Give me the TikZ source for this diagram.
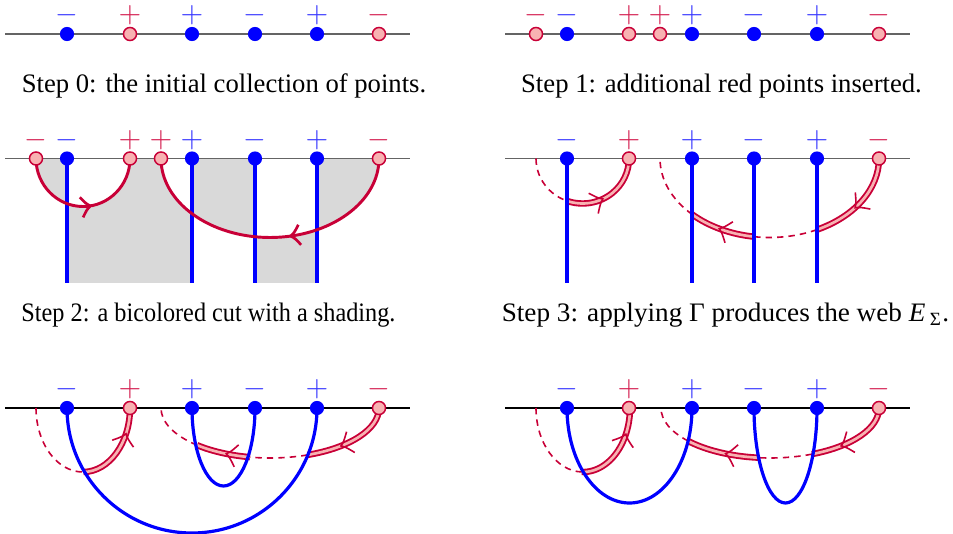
\documentclass[tikz,border=0pt]{standalone}
\usepackage{fontspec}
\setmainfont{Liberation Serif}
\usetikzlibrary{decorations.markings,backgrounds}
\definecolor{crim}{RGB}{200,0,55}
\definecolor{pinkf}{RGB}{248,178,178}
\definecolor{lblred}{RGB}{212,30,80}
\definecolor{lblblue}{RGB}{55,55,255}
\definecolor{axisgray}{RGB}{100,100,100}
\definecolor{shadegray}{RGB}{217,217,217}
\tikzset{
 bdot/.style={circle, fill=blue, inner sep=0pt, minimum size=5.3pt},
 rdot/.style={circle, fill=pinkf, draw=crim, line width=0.55pt, inner sep=0pt, minimum size=4.9pt},
 lblb/.style={text=lblblue, font=\fontsize{11}{13}\selectfont, inner sep=0pt},
 lblr/.style={text=lblred, font=\fontsize{11}{13}\selectfont, inner sep=0pt},
 axisline/.style={draw=axisgray, line width=0.55pt},
 axisblack/.style={draw=black, line width=0.45pt},
 bluew/.style={draw=blue, line width=1.2pt},
 redarc/.style={draw=crim, line width=1.1pt},
 dsh/.style={draw=crim, line width=0.6pt, dash pattern=on 2.4pt off 1.9pt},
 dblout/.style={draw=crim, line width=2.4pt},
 dblin/.style={draw=pinkf, line width=1.0pt},
 captext/.style={font=\fontsize{10}{12}\selectfont, inner sep=0pt},
}
\newcommand\bpt[4]{\node[bdot] (#1) at (#2,#3) {}; \node[lblb] (#1s) at (#2,#3+18.5) {$#4$};}
\newcommand\rpt[4]{\node[rdot] (#1) at (#2,#3) {}; \node[lblr] (#1s) at (#2,#3+18.5) {$#4$};}
\newcommand\chevthin{\draw[crim, line width=0.6pt] (-3.9pt,4.2pt) .. controls (-1.6pt,1.2pt) .. (0pt,0pt) .. controls (-1.6pt,-1.2pt) .. (-3.9pt,-4.2pt);}
\newcommand\chevthick{\draw[crim, line width=1.0pt] (-3.4pt,3.8pt) .. controls (-1.5pt,1.1pt) .. (0pt,0pt) .. controls (-1.5pt,-1.1pt) .. (-3.4pt,-3.8pt);}
\newcommand\dasharc[4]{\draw[dsh] (#1) arc[start angle=#2,end angle=#3,#4];}
\newcommand\dblarc[5]{%
  \draw[dblout] (#1) arc[start angle=#2,end angle=#3,#4];
  \draw[dblin] (#1) arc[start angle=#2,end angle=#3,#4];
  \path[decorate,decoration={markings,mark=at position #5 with {\chevthin}}] (#1) arc[start angle=#2,end angle=#3,#4];}
\begin{document}
\begin{tikzpicture}[x=0.375pt,y=0.375pt]
\useasboundingbox (0,0) rectangle (953,-534);
% ---------- Step 0
\bpt{p0a}{67}{-34}{-} \rpt{p0b}{130}{-34}{+} \bpt{p0c}{192}{-34}{+}
\bpt{p0d}{255}{-34}{-} \bpt{p0e}{317}{-34}{+} \rpt{p0f}{379}{-34}{-}
\coordinate (a0L) at (5,-34); \coordinate (a0R) at (410,-34);
\node[captext, anchor=base] (c0) at (224,-93) {Step 0: the initial collection of points.};
% ---------- Step 1
\rpt{p1a}{536}{-34}{-} \bpt{p1b}{567}{-34}{-} \rpt{p1c}{629}{-34}{+} \rpt{p1d}{660}{-34}{+}
\bpt{p1e}{692}{-34}{+} \bpt{p1f}{754}{-34}{-} \bpt{p1g}{817}{-34}{+} \rpt{p1h}{879}{-34}{-}
\coordinate (a1L) at (505,-34); \coordinate (a1R) at (910,-34);
\node[captext, anchor=base] (c1) at (721.5,-93) {Step 1: additional red points inserted.};
% ---------- Step 2
\rpt{p2a}{36}{-158.5}{-} \bpt{p2b}{67}{-158.5}{-} \rpt{p2c}{130}{-158.5}{+} \rpt{p2d}{161}{-158.5}{+}
\bpt{p2e}{192}{-158.5}{+} \bpt{p2f}{255}{-158.5}{-} \bpt{p2g}{317}{-158.5}{+} \rpt{p2h}{379}{-158.5}{-}
\coordinate (a2L) at (5,-158.5); \coordinate (a2R) at (410,-158.5);
\coordinate (p2bB) at (67,-283); \coordinate (p2eB) at (192,-283);
\coordinate (p2fB) at (255,-283); \coordinate (p2gB) at (317,-283);
\node[captext, anchor=base] (c2) at (208.5,-322) {\scalebox{0.91}[1]{Step 2: a bicolored cut with a shading.}};
% ---------- Step 3
\bpt{p3a}{567}{-158.5}{-} \rpt{p3b}{629}{-158.5}{+} \bpt{p3c}{692}{-158.5}{+}
\bpt{p3d}{754}{-158.5}{-} \bpt{p3e}{817}{-158.5}{+} \rpt{p3f}{879}{-158.5}{-}
\coordinate (a3L) at (505,-158.5); \coordinate (a3R) at (910,-158.5);
\coordinate (s3a) at (536,-158.5);
\coordinate (p3aB) at (567,-283); \coordinate (p3cB) at (692,-283);
\coordinate (p3dB) at (754,-283); \coordinate (p3eB) at (817,-283);
\node[captext, anchor=base] (c3) at (725.5,-322) {\scalebox{1.02}[1]{Step 3: applying Γ produces the web \textit{E}\,\textsubscript{Σ}.}};
% ---------- Step 4
\bpt{p4a}{67}{-408}{-} \rpt{p4b}{130}{-408}{+} \bpt{p4c}{192}{-408}{+}
\bpt{p4d}{255}{-408}{-} \bpt{p4e}{317}{-408}{+} \rpt{p4f}{379}{-408}{-}
\coordinate (a4L) at (5,-408); \coordinate (a4R) at (410,-408);
\coordinate (s4a) at (36,-408);
% ---------- Step 5
\bpt{p5a}{567}{-408}{-} \rpt{p5b}{629}{-408}{+} \bpt{p5c}{692}{-408}{+}
\bpt{p5d}{754}{-408}{-} \bpt{p5e}{817}{-408}{+} \rpt{p5f}{879}{-408}{-}
\coordinate (a5L) at (505,-408); \coordinate (a5R) at (910,-408);
\coordinate (s5a) at (536,-408);

\begin{pgfonlayer}{background}
% axes 0,1
\draw[axisline] (a0L) -- (a0R);
\draw[axisline] (a1L) -- (a1R);
% ----- Step 2 shading
\fill[shadegray, even odd rule]
  (p2b.center) rectangle (p2eB)
  (p2f.center) rectangle (p2gB)
  (p2a.center) arc[start angle=180,end angle=360,x radius=47,y radius=48] -- cycle
  (p2d.center) arc[start angle=180,end angle=360,x radius=109,y radius=79] -- cycle;
\draw[axisline] (a2L) -- (a2R);
\draw[bluew] (p2b.center) -- (p2bB);
\draw[bluew] (p2e.center) -- (p2eB);
\draw[bluew] (p2f.center) -- (p2fB);
\draw[bluew] (p2g.center) -- (p2gB);
\draw[redarc] (p2a.center) arc[start angle=180,end angle=360,x radius=47,y radius=48];
\path[decorate,decoration={markings,mark=at position 0.55 with {\chevthick}}]
  (p2a.center) arc[start angle=180,end angle=360,x radius=47,y radius=48];
\draw[redarc] (p2h.center) arc[start angle=0,end angle=-180,x radius=109,y radius=79];
\path[decorate,decoration={markings,mark=at position 0.43 with {\chevthick}}]
  (p2h.center) arc[start angle=0,end angle=-180,x radius=109,y radius=79];
% ----- Step 3
\draw[axisline] (a3L) -- (a3R);
\path (s3a) arc[start angle=180,end angle=250.5,x radius=46.5,y radius=45] coordinate (s3x);
\dasharc{s3a}{180}{250.5}{x radius=46.5,y radius=45}
\dblarc{s3x}{250.5}{360}{x radius=46.5,y radius=45}{0.42}
\path (p3f.center) arc[start angle=0,end angle=-64.3,x radius=109.5,y radius=79] coordinate (q3a)
  arc[start angle=-64.3,end angle=-98.1,x radius=109.5,y radius=79] coordinate (q3b)
  arc[start angle=-98.1,end angle=-134.9,x radius=109.5,y radius=79] coordinate (q3c);
\dblarc{p3f.center}{0}{-64.3}{x radius=109.5,y radius=79}{0.56}
\dasharc{q3a}{-64.3}{-98.1}{x radius=109.5,y radius=79}
\dblarc{q3b}{-98.1}{-134.9}{x radius=109.5,y radius=79}{0.54}
\dasharc{q3c}{-134.9}{-180}{x radius=109.5,y radius=79}
\draw[bluew] (p3a.center) -- (p3aB);
\draw[bluew] (p3c.center) -- (p3cB);
\draw[bluew] (p3d.center) -- (p3dB);
\draw[bluew] (p3e.center) -- (p3eB);
% ----- Step 4
\draw[axisblack] (a4L) -- (a4R);
\path (s4a) arc[start angle=180,end angle=270.5,x radius=47,y radius=64] coordinate (s4x);
\dasharc{s4a}{180}{270.5}{x radius=47,y radius=64}
\dblarc{s4x}{270.5}{360}{x radius=47,y radius=64}{0.7}
\path (p4f.center) arc[start angle=0,end angle=-69.9,x radius=109,y radius=50] coordinate (q4a)
  arc[start angle=-69.9,end angle=-100.6,x radius=109,y radius=50] coordinate (q4b)
  arc[start angle=-100.6,end angle=-132,x radius=109,y radius=50] coordinate (q4c);
\dblarc{p4f.center}{0}{-69.9}{x radius=109,y radius=50}{0.62}
\dasharc{q4a}{-69.9}{-100.6}{x radius=109,y radius=50}
\dblarc{q4b}{-100.6}{-132}{x radius=109,y radius=50}{0.44}
\dasharc{q4c}{-132}{-180}{x radius=109,y radius=50}
\draw[bluew] (p4a.center) arc[start angle=180,end angle=360,radius=125];
\draw[bluew] (p4c.center) arc[start angle=180,end angle=360,x radius=31.5,y radius=78];
% ----- Step 5
\draw[axisblack] (a5L) -- (a5R);
\path (s5a) arc[start angle=180,end angle=268.4,x radius=47,y radius=64] coordinate (s5x);
\dasharc{s5a}{180}{268.4}{x radius=47,y radius=64}
\dblarc{s5x}{268.4}{360}{x radius=47,y radius=64}{0.7}
\path (p5f.center) arc[start angle=0,end angle=-67.4,x radius=109,y radius=50] coordinate (q5a)
  arc[start angle=-67.4,end angle=-96.3,x radius=109,y radius=50] coordinate (q5b)
  arc[start angle=-96.3,end angle=-138.8,x radius=109,y radius=50] coordinate (q5c);
\dblarc{p5f.center}{0}{-67.4}{x radius=109,y radius=50}{0.65}
\dasharc{q5a}{-67.4}{-96.3}{x radius=109,y radius=50}
\dblarc{q5b}{-96.3}{-138.8}{x radius=109,y radius=50}{0.45}
\dasharc{q5c}{-138.8}{-180}{x radius=109,y radius=50}
\draw[bluew] (p5a.center) arc[start angle=180,end angle=360,x radius=62.5,y radius=95];
\draw[bluew] (p5d.center) arc[start angle=180,end angle=360,x radius=31.5,y radius=95];
\end{pgfonlayer}
\end{tikzpicture}
\end{document}
